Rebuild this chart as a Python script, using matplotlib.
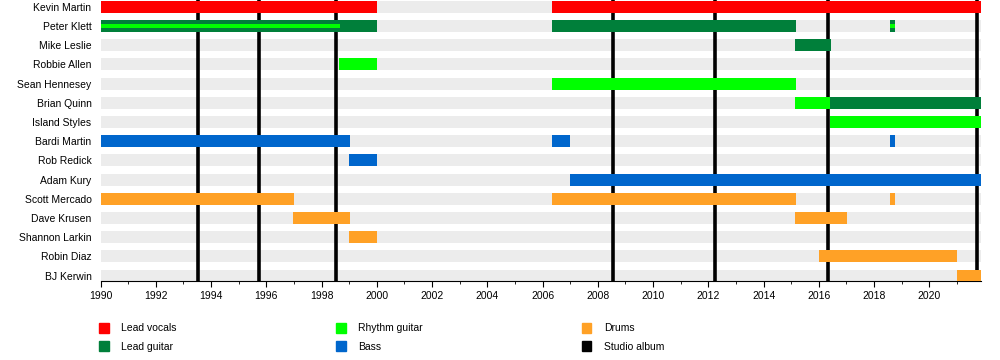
import matplotlib
matplotlib.use("Agg")
import matplotlib.pyplot as plt
from matplotlib.patches import Patch
from matplotlib.ticker import MultipleLocator

plt.rcParams['font.family'] = ['Liberation Sans', 'DejaVu Sans']

members = ["Kevin Martin", "Peter Klett", "Mike Leslie", "Robbie Allen", "Sean Hennesey",
           "Brian Quinn", "Island Styles", "Bardi Martin", "Rob Redick", "Adam Kury",
           "Scott Mercado", "Dave Krusen", "Shannon Larkin", "Robin Diaz", "BJ Kerwin"]

start_year = 1990
end_year = 2021.87

# (member, from, to)
lead_vocals = [("Kevin Martin", 1990, 2000), ("Kevin Martin", 2006.33, end_year)]
lead_guitar = [("Peter Klett", 1990, 2000), ("Peter Klett", 2006.33, 2015.19),
               ("Peter Klett", 2018.58, 2018.76), ("Mike Leslie", 2015.15, 2016.45),
               ("Brian Quinn", 2016.42, end_year)]
rhythm_guitar = [("Robbie Allen", 1998.62, 2000), ("Sean Hennesey", 2006.33, 2015.19),
                 ("Brian Quinn", 2015.15, 2016.42), ("Island Styles", 2016.42, end_year)]
# second role drawn as a thin stripe
rhythm_thin = [("Peter Klett", 1990, 1998.66), ("Peter Klett", 2018.58, 2018.76)]
bass = [("Bardi Martin", 1990, 1999.04), ("Bardi Martin", 2006.33, 2007.0),
        ("Bardi Martin", 2018.58, 2018.76), ("Rob Redick", 1999.0, 2000),
        ("Adam Kury", 2007.0, end_year)]
drums = [("Scott Mercado", 1990, 1997.0), ("Scott Mercado", 2006.33, 2015.19),
         ("Scott Mercado", 2018.58, 2018.76), ("Dave Krusen", 1996.96, 1999.04),
         ("Dave Krusen", 2015.15, 2017.03), ("Shannon Larkin", 1999.0, 2000),
         ("Robin Diaz", 2016.0, 2021.0), ("BJ Kerwin", 2021.0, end_year)]
albums = [1993.54, 1995.74, 1998.54, 2008.55, 2012.26, 2016.32, 2021.72]

colors = {"Lead vocals": "#ff0000", "Lead guitar": "#007f3a", "Rhythm guitar": "#00ff00",
          "Bass": "#0066cc", "Drums": "#ffa126", "Studio album": "#000000"}

fig = plt.figure(figsize=(10, 3.6), dpi=100)
ax = fig.add_axes([0.1005, 0.2194, 0.8805, 0.7806])

rows = {m: i for i, m in enumerate(members)}
h = 0.62

# grey background bars
ax.barh(range(len(members)), end_year - start_year, left=start_year, height=h,
        color="#ececec", zorder=1)

for x in albums:
    ax.axvline(x, color="black", lw=2.6, zorder=2)


def draw(spans, color, height=h):
    for m, a, b in spans:
        ax.barh(rows[m], b - a, left=a, height=height, color=color, zorder=3)


draw(lead_vocals, colors["Lead vocals"])
draw(lead_guitar, colors["Lead guitar"])
draw(rhythm_guitar, colors["Rhythm guitar"])
draw(bass, colors["Bass"])
draw(drums, colors["Drums"])
draw(rhythm_thin, colors["Rhythm guitar"], height=0.2)

ax.set_xlim(start_year, end_year)
ax.set_ylim(len(members) - 1 + 0.28, -0.354)
ax.set_yticks(range(len(members)))
ax.set_yticklabels(members, fontsize=7.5)
ax.tick_params(axis="y", length=0, pad=6.5)
ax.xaxis.set_major_locator(MultipleLocator(2))
ax.xaxis.set_minor_locator(MultipleLocator(1))
ax.tick_params(axis="x", which="major", length=4, labelsize=7.5, pad=3)
ax.tick_params(axis="x", which="minor", length=2.5)
for s in ["top", "right", "left"]:
    ax.spines[s].set_visible(False)

handles = [Patch(color=colors[k]) for k in colors]
fig.legend(handles, list(colors.keys()), ncol=3, loc="upper left",
           bbox_to_anchor=(0.09, 0.13), frameon=False, fontsize=7.5,
           handlelength=0.9, handleheight=1.1, handletextpad=1.2,
           columnspacing=15.3, labelspacing=0.8)

fig.savefig("out.png", dpi=100)
